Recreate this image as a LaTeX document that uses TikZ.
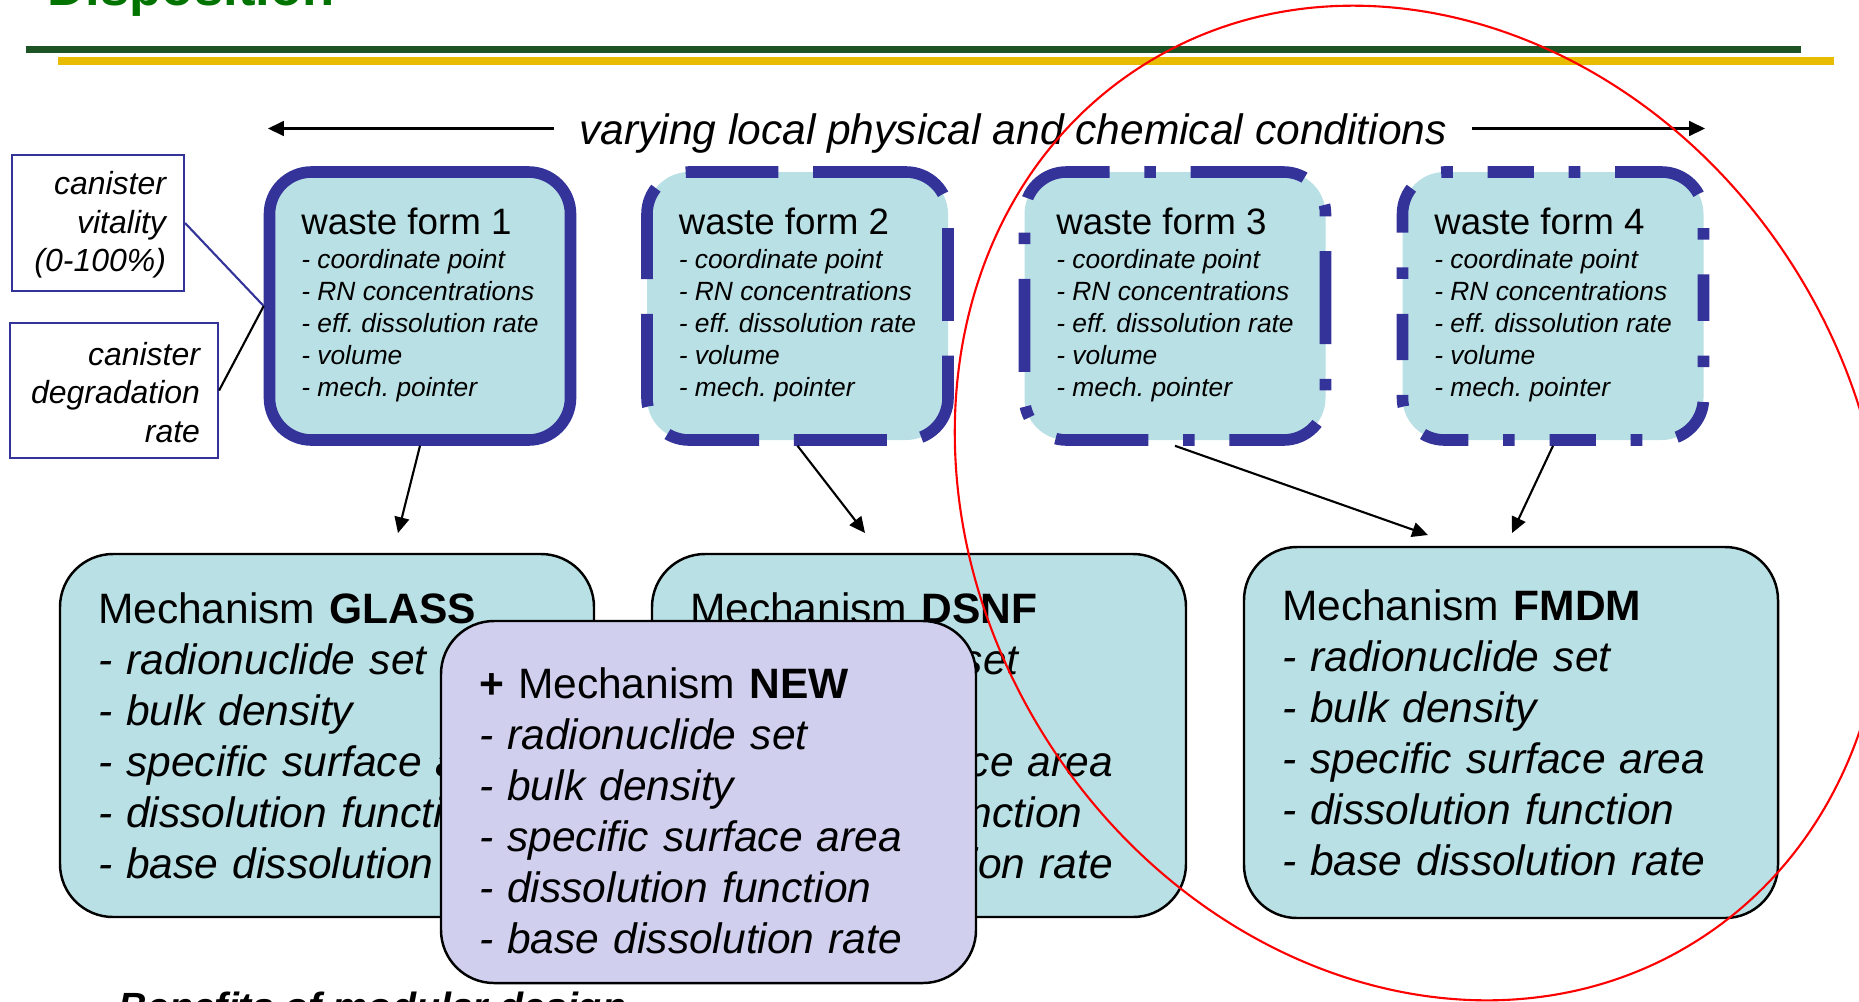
\documentclass[tikz,border=0pt]{standalone}
\usepackage{fontspec}
\setmainfont{Liberation Sans}
\usetikzlibrary{arrows.meta}
\frenchspacing

\definecolor{wfblue}{RGB}{51,51,153}
\definecolor{wffill}{RGB}{185,224,228}
\definecolor{newfill}{RGB}{208,208,238}
\definecolor{bargreen}{RGB}{29,84,38}
\definecolor{baryellow}{RGB}{232,188,0}
\definecolor{titlegreen}{RGB}{0,115,0}

\tikzset{
  wastebox/.style={draw=wfblue, fill=wffill, line width=3.3pt, rounded corners=0.42cm,
    minimum width=3.01cm, minimum height=2.68cm, inner sep=0pt, align=left,
    font=\fontsize{7.5}{9.1}\selectfont\itshape},
  mechbox/.style={draw=black, fill=wffill, line width=0.7pt, rounded corners=0.53cm,
    text width=4.58cm, inner xsep=0.38cm, inner ysep=0pt, minimum height=3.63cm, align=left,
    font=\fontsize{12.1}{14.5}\selectfont\itshape},
  canbox/.style={draw=wfblue, line width=0.6pt, inner xsep=0.18cm, inner ysep=0pt,
    minimum height=1.36cm, align=right, font=\fontsize{9.1}{10.95}\selectfont\itshape},
  flow/.style={line width=0.6pt, -{Triangle[length=4.5pt,width=4.2pt]}},
}

\begin{document}
\begin{tikzpicture}

\useasboundingbox (0,0) rectangle (18.59,-10.01);

%title and header bars
\node[anchor=base west, inner sep=0pt, text=titlegreen, font=\fontsize{15}{18}\selectfont\bfseries] (title) at (0.47,-0.05) {Disposition};
\draw[bargreen, line width=2.16pt] (0.26,-0.495) -- (18.01,-0.495);
\draw[baryellow, line width=2.2pt] (0.58,-0.61) -- (18.34,-0.61);

%varying conditions
\node[inner xsep=0.25cm, font=\fontsize{12.1}{14}\selectfont\itshape] (conditions) at (10.13,-1.33) {varying local physical and chemical conditions};
\coordinate (leftend) at (2.68,-1.285);
\coordinate (rightend) at (17.05,-1.285);
\draw[flow] (conditions.west |- leftend) -- (leftend);
\draw[flow] (conditions.east |- rightend) -- (rightend);

%canister boxes
\node[canbox, text width=1.36cm] (vitality) at (0.98,-2.23) {\rule{0pt}{0.27cm}canister\\vitality\\(0-100\%)};
\node[canbox, text width=1.72cm, minimum height=1.35cm] (degradation) at (1.14,-3.905) {\rule{0pt}{0.27cm}canister\\degradation\\rate};

%waste forms
\node[wastebox] (wf1) at (4.20,-3.06) {{\upshape\fontsize{10.45}{12}\selectfont waste form 1}\\[0.6pt]- coordinate point\\- RN concentrations\\- eff. dissolution rate\\- volume\\- mech. pointer\rule[-0.08cm]{0pt}{0pt}};
\node[wastebox, dash pattern=on 26.4pt off 9.9pt] (wf2) at (7.975,-3.06) {{\upshape\fontsize{10.45}{12}\selectfont waste form 2}\\[0.6pt]- coordinate point\\- RN concentrations\\- eff. dissolution rate\\- volume\\- mech. pointer\rule[-0.08cm]{0pt}{0pt}};
\node[wastebox, dash pattern=on 26.4pt off 9.9pt on 3.3pt off 9.9pt] (wf3) at (11.75,-3.06) {{\upshape\fontsize{10.45}{12}\selectfont waste form 3}\\[0.6pt]- coordinate point\\- RN concentrations\\- eff. dissolution rate\\- volume\\- mech. pointer\rule[-0.08cm]{0pt}{0pt}};
\node[wastebox, dash pattern=on 13.2pt off 9.9pt on 3.3pt off 9.9pt] (wf4) at (15.53,-3.06) {{\upshape\fontsize{10.45}{12}\selectfont waste form 4}\\[0.6pt]- coordinate point\\- RN concentrations\\- eff. dissolution rate\\- volume\\- mech. pointer\rule[-0.08cm]{0pt}{0pt}};

%canister links
\draw[wfblue, line width=0.6pt] (vitality.east) -- (wf1.west);
\draw[line width=0.6pt] (degradation.east) -- (wf1.west);

%mechanisms
\node[mechbox] (glass) at (3.27,-7.355) {{\upshape Mechanism \textbf{GLASS}}\\- radionuclide set\\- bulk density\\- specific surface area\\- dissolution function\\- base dissolution rate};
\node[mechbox] (dsnf) at (9.19,-7.355) {{\upshape Mechanism \textbf{DSNF}}\\- radionuclide set\\- bulk density\\- specific surface area\\- dissolution function\\- base dissolution rate};
\node[mechbox, minimum height=3.71cm] (fmdm) at (15.11,-7.325) {{\upshape Mechanism \textbf{FMDM}}\\- radionuclide set\\- bulk density\\- specific surface area\\- dissolution function\\- base dissolution rate};
\node[mechbox, fill=newfill, text width=4.59cm, minimum height=3.62cm] (new) at (7.085,-8.02) {\rule{0pt}{0.49cm}{\upshape\textbf{+} Mechanism \textbf{NEW}}\\- radionuclide set\\- bulk density\\- specific surface area\\- dissolution function\\- base dissolution rate};

%links to mechanisms
\coordinate (tip1) at (3.98,-5.33);
\coordinate (tip2) at (8.65,-5.33);
\coordinate (tip3) at (14.28,-5.35);
\coordinate (tip4) at (15.12,-5.33);
\draw[flow] (wf1.south) -- (tip1);
\draw[flow] (wf2.south) -- (tip2);
\draw[flow] (wf3.south) -- (tip3);
\draw[flow] (wf4.south) -- (tip4);

%bottom line, mostly cut off
\node[anchor=base west, inner sep=0pt, font=\fontsize{11.2}{13}\selectfont\bfseries\itshape] (benefits) at (1.18,-10.20) {Benefits of modular design};

%red circle
\draw[red, line width=0.6pt, rotate around={32.5:(14.20,-5.03)}] (14.20,-5.03) ellipse [x radius=4.42, y radius=5.18];

\end{tikzpicture}
\end{document}
